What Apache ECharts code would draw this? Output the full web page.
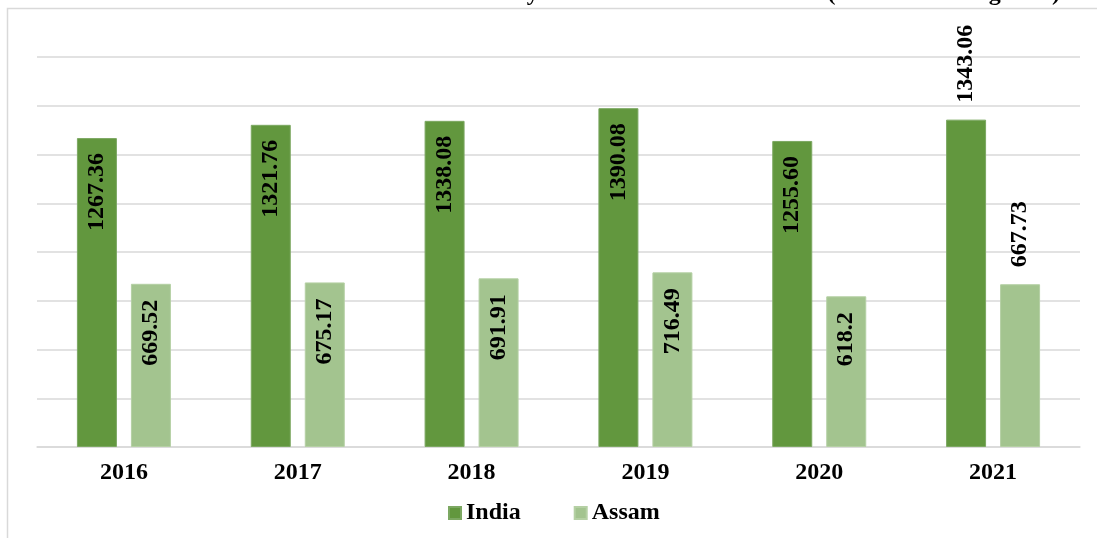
<!DOCTYPE html>
<html>
<head>
<meta charset="utf-8">
<script src="https://cdn.jsdelivr.net/npm/echarts@6/dist/echarts.min.js"></script>
<style>html,body{margin:0;padding:0;background:#fff;}#c{width:1097px;height:538px;}</style>
</head>
<body>
<div id="c"></div>
<script>
var years = ['2016', '2017', '2018', '2019', '2020', '2021'];
var india = [1267.36, 1321.76, 1338.08, 1390.08, 1255.60, 1343.06];
var assam = [669.52, 675.17, 691.91, 716.49, 618.2, 667.73];
var seriesNames = ['India', 'Assam'];
var titleText = 'Productivity of Rice in India and Assam (Yield Rate in kg ha-1)';

var FONT = '"Liberation Serif", "Times New Roman", serif';
var FS = 24;
var chart = echarts.init(document.getElementById('c'));

function makeData(vals, insideDist) {
  return vals.map(function (v, i) {
    var outside = i === vals.length - 1;
    return {
      value: v,
      label: outside
        ? { position: 'top', distance: 17, align: 'left', verticalAlign: 'middle' }
        : { position: 'insideTop', distance: insideDist, align: 'right', verticalAlign: 'middle' }
    };
  });
}

var labelBase = {
  show: true,
  rotate: 90,
  color: '#000',
  fontFamily: FONT,
  fontWeight: 'bold',
  fontSize: FS
};

chart.setOption({
  animation: false,
  graphic: [
    { type: 'rect', shape: { x: 7.5, y: 8.5, width: 1200, height: 700 }, style: { fill: 'none', stroke: '#d9d9d9', lineWidth: 1.5 }, silent: true },
    { type: 'text', x: 1060, y: 6, style: { text: titleText, textAlign: 'right', textVerticalAlign: 'bottom', font: 'bold ' + FS + 'px ' + FONT, fill: '#000' } }
  ],
  grid: { left: 37, right: 17, top: 57, bottom: 91, containLabel: false },
  legend: {
    data: seriesNames,
    left: 443,
    top: 496,
    itemWidth: 12,
    itemHeight: 12,
    itemGap: 53,
    icon: 'rect',
    textStyle: { fontFamily: FONT, fontWeight: 'bold', fontSize: FS, color: '#000' }
  },
  xAxis: {
    type: 'category',
    data: years,
    axisTick: { show: false },
    axisLine: { lineStyle: { color: '#d9d9d9', width: 1.5 } },
    axisLabel: { margin: 14, color: '#000', fontFamily: FONT, fontWeight: 'bold', fontSize: FS }
  },
  yAxis: {
    type: 'value',
    min: 0,
    max: 1600,
    interval: 200,
    axisLabel: { show: false },
    axisLine: { show: false },
    axisTick: { show: false },
    splitLine: { lineStyle: { color: '#d9d9d9', width: 1.5 } }
  },
  series: [
    {
      name: seriesNames[0],
      type: 'bar',
      barWidth: 40,
      barGap: '35%',
      itemStyle: { color: '#62973e', borderColor: '#7ca862', borderWidth: 1 },
      label: Object.assign({}, labelBase, { formatter: function (p) { return p.value.toFixed(2); } }),
      data: makeData(india, 15)
    },
    {
      name: seriesNames[1],
      type: 'bar',
      barWidth: 40,
      itemStyle: { color: '#a3c48f', borderColor: '#b5d0a4', borderWidth: 1 },
      label: Object.assign({}, labelBase, { formatter: function (p) { return String(p.value); } }),
      data: makeData(assam, 16)
    }
  ]
});
</script>
</body>
</html>
